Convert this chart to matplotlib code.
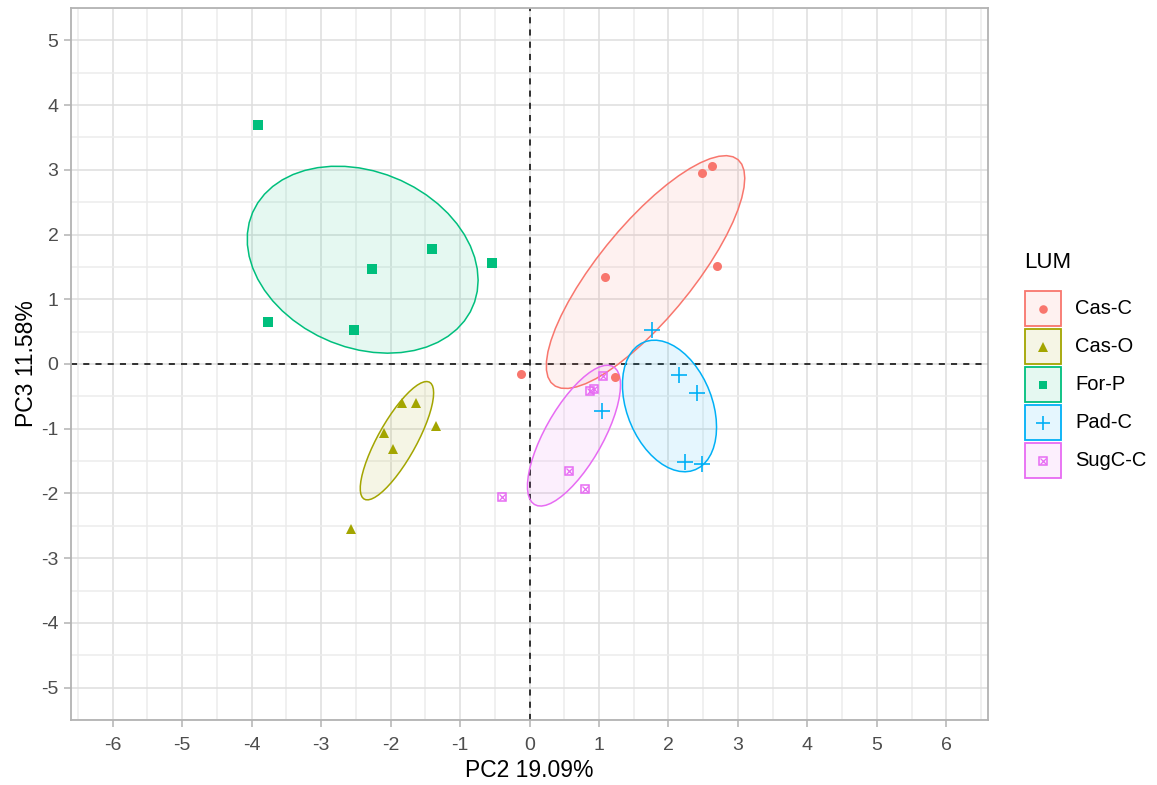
import numpy as np
import matplotlib
matplotlib.use("Agg")
import matplotlib.pyplot as plt
from matplotlib.patches import Polygon, Rectangle

plt.rcParams['font.family'] = ['Liberation Sans', 'DejaVu Sans']
plt.rcParams['axes.unicode_minus'] = False

# PCA scores (PC2, PC3) per land-use group
groups = ["Cas-C", "Cas-O", "For-P", "Pad-C", "SugC-C"]
colors = ["#F8766D", "#A3A500", "#00BF7D", "#00B0F6", "#E76BF3"]

cas_c_x = [-0.12, 1.09, 1.23, 2.49, 2.63, 2.70]
cas_c_y = [-0.15, 1.35, -0.20, 2.95, 3.06, 1.51]
cas_o_x = [-1.83, -1.63, -1.35, -2.10, -1.97, -2.57]
cas_o_y = [-0.60, -0.61, -0.96, -1.07, -1.32, -2.55]
for_p_x = [-3.91, -1.40, -2.27, -0.54, -3.77, -2.52]
for_p_y = [3.70, 1.78, 1.46, 1.56, 0.65, 0.52]
pad_c_x = [1.76, 2.15, 2.41, 1.05, 2.24, 2.48]
pad_c_y = [0.53, -0.17, -0.45, -0.73, -1.52, -1.55]
sugc_c_x = [1.06, 0.87, 0.93, 0.57, 0.80, -0.39]
sugc_c_y = [-0.19, -0.42, -0.39, -1.65, -1.93, -2.06]

xs = [cas_c_x, cas_o_x, for_p_x, pad_c_x, sugc_c_x]
ys = [cas_c_y, cas_o_y, for_p_y, pad_c_y, sugc_c_y]

x_label = "PC2 19.09%"
y_label = "PC3 11.58%"
legend_title = "LUM"
ellipse_level = 0.5


def ellipse_path(x, y, level=ellipse_level, segments=51):
    """Normal-theory data ellipse: group mean, sample covariance, F-based radius."""
    pts = np.column_stack([x, y])
    mu = pts.mean(axis=0)
    sigma = np.cov(pts, rowvar=False)
    dfn, dfd = 2, len(x) - 1
    # F quantile with 2 numerator df has a closed form
    qf = dfd / 2.0 * ((1.0 - level) ** (-2.0 / dfd) - 1.0)
    radius = np.sqrt(dfn * qf)
    ang = np.arange(segments + 1) * 2 * np.pi / segments
    circ = np.column_stack([np.cos(ang), np.sin(ang)])
    R = np.linalg.cholesky(sigma).T
    return mu + radius * (circ @ R)


W, H = 1157, 785
fig = plt.figure(figsize=(W / 100, H / 100), dpi=100)
ax = fig.add_axes([71 / W, 1 - 720 / H, (988 - 71) / W, (720 - 8) / H])

ax.set_xlim(-6.6, 6.6)
ax.set_ylim(-5.47, 5.49)
ax.set_xticks(np.arange(-6, 7, 1))
ax.set_yticks(np.arange(-5, 6, 1))
ax.set_xticks(np.arange(-6.5, 7, 1), minor=True)
ax.set_yticks(np.arange(-5.5, 6, 1), minor=True)
ax.grid(which="major", color="#dedede", linewidth=1.1, zorder=0)
ax.grid(which="minor", color="#ececec", linewidth=1.1, zorder=0)
ax.set_axisbelow(True)
for s in ax.spines.values():
    s.set_color("#b3b3b3")
    s.set_linewidth(1.3)
ax.tick_params(which="major", length=5, width=1.1, color="#b3b3b3",
               labelsize=14, labelcolor="#4d4d4d")
ax.tick_params(axis="x", which="major", pad=7)
ax.tick_params(axis="y", which="major", pad=4)
ax.tick_params(which="minor", length=0)

ax.axvline(0, color="black", linestyle=(0, (4, 4)), linewidth=1.1, zorder=1)
ax.axhline(0, color="black", linestyle=(0, (4, 4)), linewidth=1.1, zorder=1)

for gx, gy, c in zip(xs, ys, colors):
    poly = ellipse_path(gx, gy)
    ax.add_patch(Polygon(poly, closed=True, facecolor=c, alpha=0.1,
                         edgecolor="none", zorder=2))
    ax.add_patch(Polygon(poly, closed=True, facecolor="none", edgecolor=c,
                         linewidth=1.1, zorder=3))


def draw_marker(a, x, y, i, scale=1.0):
    c = colors[i]
    if i == 0:
        a.plot(x, y, "o", ms=6.5 * scale, color=c, mew=0, zorder=4, ls="none")
    elif i == 1:
        a.plot(x, y, "^", ms=7.5 * scale, color=c, mew=0, zorder=4, ls="none")
    elif i == 2:
        a.plot(x, y, "s", ms=6.5 * scale, color=c, mew=0, zorder=4, ls="none")
    elif i == 3:
        a.plot(x, y, "+", ms=11 * scale, color=c, mew=1.2, zorder=4, ls="none")
    else:
        a.plot(x, y, "s", ms=6.3 * scale, mfc="none", mec=c, mew=1.1,
               zorder=4, ls="none")
        a.plot(x, y, "x", ms=4.2 * scale, color=c, mew=0.9, zorder=4, ls="none")


for i, (gx, gy) in enumerate(zip(xs, ys)):
    draw_marker(ax, gx, gy, i)

ax.set_xlabel(x_label, fontsize=16.5, color="black", labelpad=4)
ax.set_ylabel(y_label, fontsize=16.5, color="black", labelpad=2)

# legend drawn in pixel coordinates
lax = fig.add_axes([0, 0, 1, 1], facecolor="none")
lax.set_xlim(0, W)
lax.set_ylim(H, 0)
lax.axis("off")
lax.text(1024, 263, legend_title, fontsize=16, va="center", ha="left", color="black")
key_top = 290
key_h = 38
for i, g in enumerate(groups):
    top = key_top + i * key_h
    lax.add_patch(Rectangle((1025, top + 1), 36, 35, facecolor=colors[i],
                            alpha=0.1, edgecolor="none"))
    lax.add_patch(Rectangle((1025, top + 1), 36, 35, facecolor="none",
                            edgecolor=colors[i], linewidth=1.3))
    draw_marker(lax, [1043], [top + 19], i, scale=0.95)
    lax.text(1075, top + 19, g, fontsize=14.5, va="center", ha="left", color="black")

fig.savefig("out.png", dpi=100)
